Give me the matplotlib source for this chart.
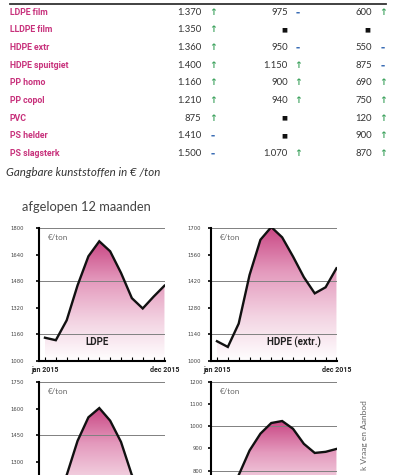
import numpy as np
import matplotlib
matplotlib.use('Agg')
import matplotlib.pyplot as plt
from matplotlib.colors import LinearSegmentedColormap

# ---- table data ----
names = ['LDPE film', 'LLDPE film', 'HDPE extr', 'HDPE spuitgiet', 'PP homo',
         'PP copol', 'PVC', 'PS helder', 'PS slagsterk']
prijs = ['1.370', '1.350', '1.360', '1.400', '1.160', '1.210', '875', '1.410', '1.500']
prijs_trend = ['up', 'up', 'up', 'up', 'up', 'up', 'up', 'eq', 'eq']
regranulaat = ['975', None, '950', '1.150', '900', '940', None, None, '1.070']
regr_trend = ['eq', None, 'eq', 'up', 'up', 'up', None, None, 'up']
maalgoed = ['600', None, '550', '875', '690', '750', '120', '900', '870']
maal_trend = ['up', None, 'eq', 'eq', 'up', 'up', 'up', 'up', 'up']

# ---- chart data (12 months 2015) ----
months = list(range(12))
ldpe = [1140, 1125, 1245, 1455, 1630, 1720, 1660, 1530, 1378, 1316, 1387, 1453]
hdpe = [1104, 1074, 1197, 1453, 1638, 1705, 1651, 1550, 1441, 1356, 1388, 1488]
pp = [1150, 1140, 1225, 1418, 1551, 1603, 1532, 1412, 1225, 1150, 1140, 1170]
pvc = [700, 690, 780, 891, 967, 1015, 1024, 989, 921, 880, 885, 898]

W, H = 395, 475
fig = plt.figure(figsize=(W / 100, H / 100), dpi=100)
fig.patch.set_facecolor('white')

def fx(x):
    return x / W

def fy(y):
    return 1 - y / H

pink = '#c8327c'
green = '#3fa35f'
blue = '#3a6db5'
grey = '#333333'

# header rule of the table
fig.add_artist(plt.Line2D([fx(10), fx(386)], [fy(4), fy(4)], color='#333', lw=1.3))

def mark(x, y, trend):
    if trend == 'up':
        fig.text(fx(x), fy(y), '↑', fontsize=6.8, color=green, ha='center',
                 va='center', family='DejaVu Sans', fontweight='bold')
    elif trend == 'eq':
        fig.text(fx(x), fy(y), '▬', fontsize=3.2, color=blue, ha='center',
                 va='center', family='DejaVu Sans')

for i, n in enumerate(names):
    y = 12.3 + 17.65 * i
    fig.text(fx(10), fy(y), n, fontsize=6.3, color=pink, fontweight='bold',
             ha='left', va='center', family='Roboto')
    fig.text(fx(201), fy(y), prijs[i], fontsize=6.8, color=grey, ha='right',
             va='center', family='Lato')
    mark(213, y, prijs_trend[i])
    if regranulaat[i] is None:
        fig.text(fx(284), fy(y), '■', fontsize=4.5, color='#111', ha='center',
                 va='center', family='DejaVu Sans')
    else:
        fig.text(fx(288), fy(y), regranulaat[i], fontsize=6.8, color=grey,
                 ha='right', va='center', family='Lato')
        mark(298, y, regr_trend[i])
    if maalgoed[i] is None:
        fig.text(fx(367), fy(y), '■', fontsize=4.5, color='#111', ha='center',
                 va='center', family='DejaVu Sans')
    else:
        fig.text(fx(372), fy(y), maalgoed[i], fontsize=6.8, color=grey,
                 ha='right', va='center', family='Lato')
        mark(383, y, maal_trend[i])

fig.text(fx(6), fy(172), 'Gangbare kunststoffen in € /ton', fontsize=8.3,
         style='italic', color='#333', ha='left', va='center', family='Lato')
fig.text(fx(22), fy(207), 'afgelopen 12 maanden', fontsize=9.3, color='#444',
         ha='left', va='center', family='Lato')

cmap = LinearSegmentedColormap.from_list(
    'pk', ['#ffffff', '#f3d3e2', '#e49abd', '#c94784'])

def chart(left, right, top, bottom, vals, lo, hi, step, grid, pad,
          label=None, lx=0.5, shown=None):
    ax = fig.add_axes([fx(left), fy(bottom), fx(right - left), (bottom - top) / H])
    ax.set_facecolor('none')
    xs = np.array(months)
    ys = np.array(vals)
    poly, = ax.fill(np.r_[xs[0], xs, xs[-1]], np.r_[lo, ys, lo],
                    facecolor='none', edgecolor='none')
    grad = np.linspace(0, 1, 256).reshape(-1, 1)
    im = ax.imshow(grad, extent=[xs[0], xs[-1], lo, max(vals)], origin='lower',
                   aspect='auto', cmap=cmap, zorder=1)
    im.set_clip_path(poly)
    for g in grid:
        ax.axhline(g, color='#808080', lw=0.7, zorder=2)
    ax.plot(xs, ys, color='#111111', lw=1.7, zorder=3, solid_joinstyle='miter')
    ax.set_xlim(-0.55, 11.05)
    ax.set_ylim(lo, hi)
    ticks = np.arange(lo, hi + 1, step)
    ax.set_yticks(ticks)
    # labels that fall below the page edge are left blank
    ax.set_yticklabels([str(t) if (shown is None or t >= shown) else '' for t in ticks])
    ax.set_xticks(months)
    ax.set_xticklabels([])
    ax.tick_params(axis='y', direction='out', length=2, width=1.2, labelsize=3.8,
                   labelcolor='#444', pad=pad)
    ax.tick_params(axis='x', direction='in', length=3, width=0.8)
    for s in ['top', 'right']:
        ax.spines[s].set_visible(False)
    for s in ['left', 'bottom']:
        ax.spines[s].set_linewidth(1.5)
    ax.text(0.07, 0.93, '€/ton', transform=ax.transAxes, fontsize=5.8,
            color='#666', ha='left', va='center', family='Lato')
    if label:
        ax.text(lx, 0.14, label, transform=ax.transAxes, fontsize=7, color='#222',
                fontweight='bold', ha='center', va='center', family='Roboto')
        ax.text(0, -0.035, 'jan 2015', transform=ax.get_xaxis_transform(),
                fontsize=5, fontweight='bold', ha='center', va='top', color='#222',
                family='Roboto')
        ax.text(11, -0.035, 'dec 2015', transform=ax.get_xaxis_transform(),
                fontsize=5, fontweight='bold', ha='center', va='top', color='#222',
                family='Roboto')
    return ax

chart(39, 165, 228, 361, ldpe, 1000, 1800, 160, [1160, 1480, 1800], 9, 'LDPE', 0.46)
chart(211, 337, 228, 361, hdpe, 1000, 1700, 140, [1140, 1420, 1700], 5,
      'HDPE (extr.)', 0.66)
chart(39, 165, 382, 515, pp, 1000, 1750, 150, [1150, 1450, 1750], 9, shown=1300)
chart(211, 337, 382, 515, pvc, 600, 1200, 100, [800, 1000, 1200], 4, shown=800)

fig.text(fx(365), fy(470), 'k Vraag en Aanbod', rotation=90,
         fontsize=6, color='#666', ha='center', va='bottom', family='Lato')

fig.savefig('out.png', dpi=100)
